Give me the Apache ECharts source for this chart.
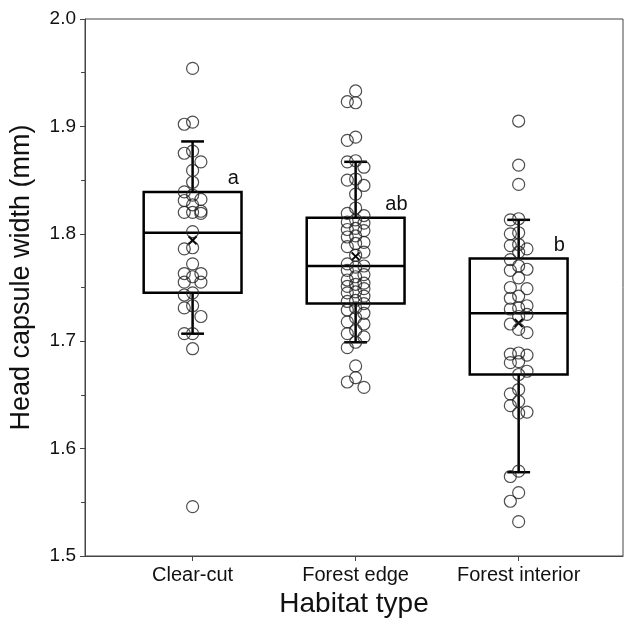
<!DOCTYPE html>
<html>
<head>
<meta charset="utf-8">
<script src="https://cdn.jsdelivr.net/npm/echarts@6/dist/echarts.min.js"></script>
<style>
html,body{margin:0;padding:0;background:#fff;}
#chart{width:625px;height:628px;}
</style>
</head>
<body>
<div id="chart"></div>
<script>
// ---- data ----
const categories = ['Clear-cut', 'Forest edge', 'Forest interior'];
const clearCut = [1.954, 1.904, 1.902, 1.877, 1.875, 1.867, 1.859, 1.848, 1.839, 1.836, 1.832, 1.831, 1.827,
  1.821, 1.820, 1.820, 1.819, 1.802, 1.787, 1.786, 1.772, 1.763, 1.763, 1.760, 1.755, 1.755, 1.745, 1.743,
  1.733, 1.731, 1.723, 1.707, 1.707, 1.693, 1.546];
const forestEdge = [1.933, 1.923, 1.922, 1.890, 1.887, 1.868, 1.867, 1.862, 1.851, 1.850, 1.845, 1.837, 1.824,
  1.819, 1.817, 1.813, 1.811, 1.810, 1.805, 1.804, 1.803, 1.798, 1.797, 1.792, 1.791, 1.788, 1.783, 1.780,
  1.772, 1.770, 1.769, 1.766, 1.762, 1.760, 1.757, 1.754, 1.753, 1.751, 1.749, 1.746, 1.745, 1.742, 1.738,
  1.737, 1.735, 1.731, 1.729, 1.726, 1.722, 1.718, 1.716, 1.710, 1.707, 1.704, 1.699, 1.694, 1.677, 1.666,
  1.662, 1.657];
const forestInterior = [1.905, 1.864, 1.846, 1.814, 1.813, 1.801, 1.800, 1.790, 1.789, 1.786, 1.783, 1.776,
  1.770, 1.767, 1.766, 1.759, 1.750, 1.749, 1.742, 1.740, 1.733, 1.731, 1.730, 1.725, 1.723, 1.716, 1.711,
  1.708, 1.689, 1.688, 1.687, 1.681, 1.680, 1.672, 1.669, 1.655, 1.651, 1.644, 1.640, 1.634, 1.633, 1.579,
  1.574, 1.559, 1.551, 1.532];
const whiskerLow  = [1.707, 1.699, 1.578];
const quart1      = [1.745, 1.735, 1.669];
const medians     = [1.801, 1.770, 1.726];
const quart3      = [1.839, 1.815, 1.777];
const whiskerHigh = [1.886, 1.867, 1.813];
const means       = [1.794, 1.779, 1.717];
const letters     = ['a', 'ab', 'b'];
const yTicks = [1.5, 1.6, 1.7, 1.8, 1.9, 2.0];

// ---- layout helpers ----
const groups = [clearCut, forestEdge, forestInterior];
const COL = 0.051;       // horizontal jitter step (x units)
const THR = 0.0102;      // min vertical gap within a column (y units)
function swarm(values, xc) {
  const sorted = values.slice().sort((a, b) => b - a);
  const last = {'-1': null, '0': null, '1': null};
  const out = [];
  for (const v of sorted) {
    let chosen = null;
    for (const c of [0, -1, 1]) {
      if (last[c] === null || Math.abs(last[c] - v) >= THR) { chosen = c; break; }
    }
    if (chosen === null) {
      let best = -1;
      for (const c of [0, -1, 1]) {
        const d = Math.abs(last[c] - v);
        if (d > best) { best = d; chosen = c; }
      }
    }
    last[chosen] = v;
    out.push([xc + chosen * COL, v]);
  }
  return out;
}
const points = [];
groups.forEach((g, i) => swarm(g, i + 1).forEach(p => points.push(p)));

const boxRows = categories.map((c, i) => [i + 1, whiskerLow[i], quart1[i], medians[i], quart3[i], whiskerHigh[i], means[i]]);
const letterRows = categories.map((c, i) => [i + 1, quart3[i], i]);

const FONT = '"Liberation Sans", Arial, sans-serif';
const chart = echarts.init(document.getElementById('chart'), null, {renderer: 'canvas'});

function renderBox(params, api) {
  const x = api.value(0);
  const lo = api.coord([x, api.value(1)]);
  const q1 = api.coord([x, api.value(2)]);
  const md = api.coord([x, api.value(3)]);
  const q3 = api.coord([x, api.value(4)]);
  const hi = api.coord([x, api.value(5)]);
  const mn = api.coord([x, api.value(6)]);
  const hw = api.size([0.30, 0])[0];
  const cw = api.size([0.07, 0])[0];
  const st = {stroke: '#000', lineWidth: 2.5, fill: null};
  const cx = md[0];
  const m = 4;
  return {
    type: 'group',
    children: [
      {type: 'rect', shape: {x: cx - hw, y: q3[1], width: 2 * hw, height: q1[1] - q3[1]}, style: st},
      {type: 'line', shape: {x1: cx - hw, y1: md[1], x2: cx + hw, y2: md[1]}, style: st},
      {type: 'line', shape: {x1: cx, y1: q3[1], x2: cx, y2: hi[1]}, style: st},
      {type: 'line', shape: {x1: cx, y1: q1[1], x2: cx, y2: lo[1]}, style: st},
      {type: 'line', shape: {x1: cx - cw, y1: hi[1], x2: cx + cw, y2: hi[1]}, style: st},
      {type: 'line', shape: {x1: cx - cw, y1: lo[1], x2: cx + cw, y2: lo[1]}, style: st},
      {type: 'line', shape: {x1: mn[0] - m, y1: mn[1] - m, x2: mn[0] + m, y2: mn[1] + m}, style: {stroke: '#000', lineWidth: 2}},
      {type: 'line', shape: {x1: mn[0] - m, y1: mn[1] + m, x2: mn[0] + m, y2: mn[1] - m}, style: {stroke: '#000', lineWidth: 2}}
    ]
  };
}

function renderLetter(params, api) {
  const p = api.coord([api.value(0) + 0.25, api.value(1)]);
  return {
    type: 'text',
    x: p[0], y: p[1] - 13,
    style: {text: letters[api.value(2)], font: '20px ' + FONT, fill: '#111', align: 'center', verticalAlign: 'middle'}
  };
}

chart.setOption({
  animation: false,
  backgroundColor: '#fff',
  grid: {left: 85, right: 2, top: 19, bottom: 72, containLabel: false, show: true, borderColor: '#444', borderWidth: 1, backgroundColor: 'transparent'},
  xAxis: {
    type: 'value', min: 0.34, max: 3.64,
    name: 'Habitat type', nameLocation: 'middle', nameGap: 33,
    nameTextStyle: {fontFamily: FONT, fontSize: 28, color: '#111'},
    splitLine: {show: false},
    axisLine: {show: true, onZero: false, lineStyle: {color: '#444', width: 1}},
    axisTick: {show: true, inside: false, length: 5, customValues: [1, 2, 3], lineStyle: {color: '#444'}},
    axisLabel: {show: true, margin: 9, customValues: [1, 2, 3], fontFamily: FONT, fontSize: 20, color: '#111',
      formatter: v => categories[Math.round(v) - 1] || ''}
  },
  yAxis: {
    type: 'value', min: yTicks[0], max: yTicks[yTicks.length - 1], interval: 0.1,
    name: 'Head capsule width (mm)', nameLocation: 'middle', nameGap: 50,
    nameTextStyle: {fontFamily: FONT, fontSize: 27, color: '#111', padding: [0, 0, 0, 20]},
    splitLine: {show: false},
    axisLine: {show: true, lineStyle: {color: '#444', width: 1}},
    axisTick: {show: true, inside: false, length: 5, lineStyle: {color: '#444'}},
    minorTick: {show: true, splitNumber: 2, length: 4, lineStyle: {color: '#444'}},
    axisLabel: {margin: 9, fontFamily: FONT, fontSize: 19, color: '#111', formatter: v => v.toFixed(1)}
  },
  series: [
    {type: 'custom', renderItem: renderBox, data: boxRows, encode: {x: 0, y: [1, 2, 3, 4, 5]}, z: 2, silent: true},
    {type: 'scatter', data: points, symbol: 'circle', symbolSize: 12, z: 3, silent: true,
      itemStyle: {color: 'rgba(255,255,255,0)', borderColor: '#222', borderWidth: 1.2}},
    {type: 'custom', renderItem: renderLetter, data: letterRows, encode: {x: 0, y: 1}, z: 4, silent: true}
  ]
});
</script>
</body>
</html>
